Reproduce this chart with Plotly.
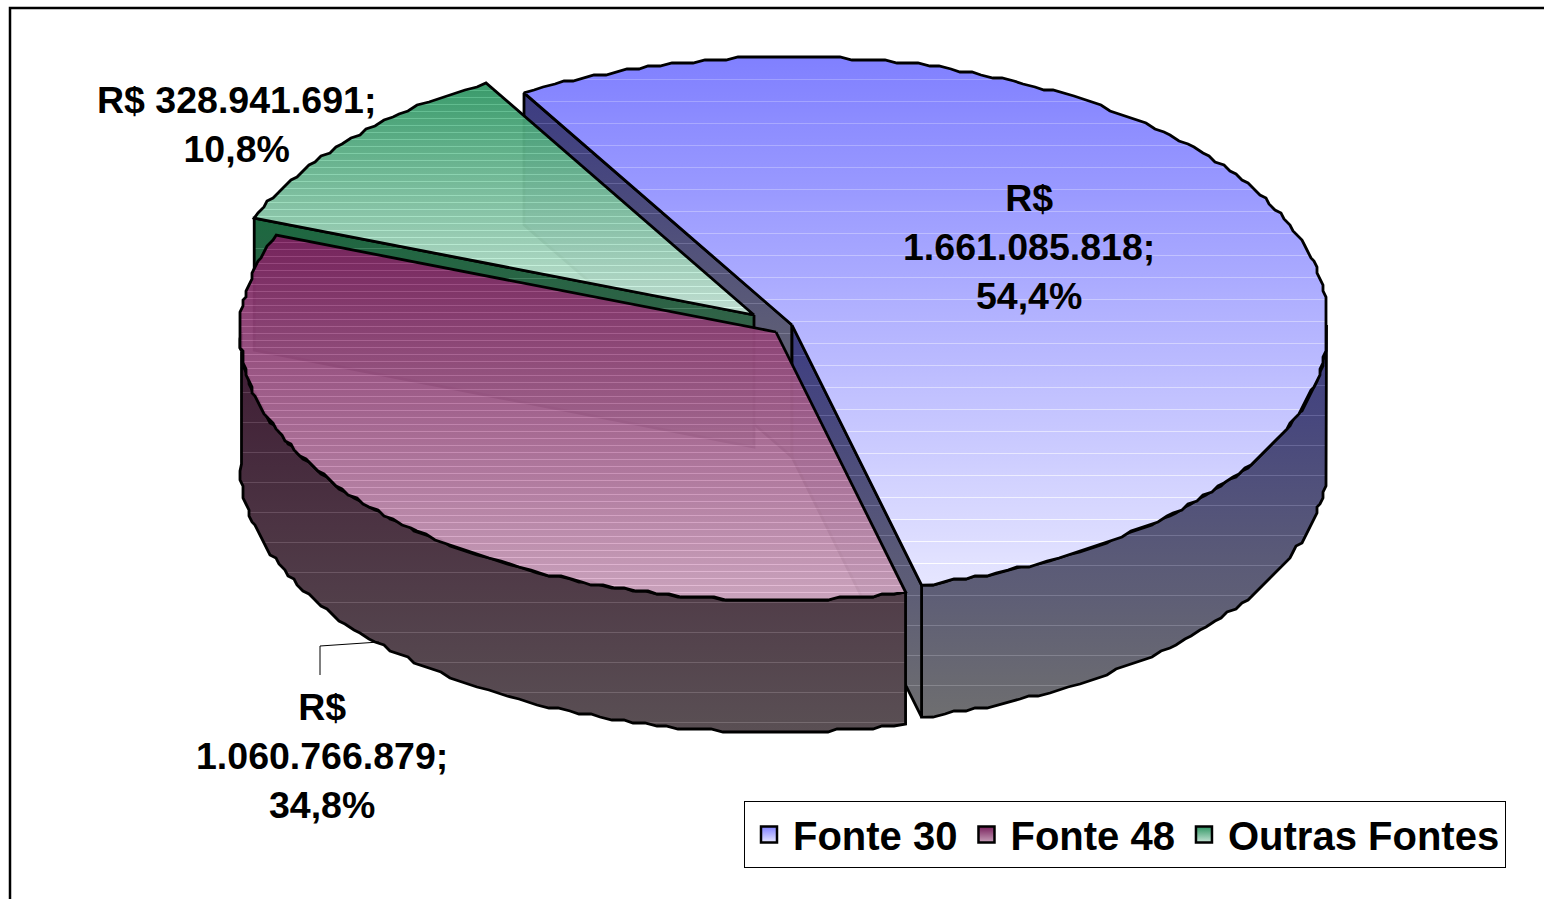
import numpy as np
import plotly.graph_objects as go

# ---- data ----
categories = ["Fonte 30", "Fonte 48", "Outras Fontes"]
values = [1661085818, 1060766879, 328941691]
percent_labels = ["54,4%", "34,8%", "10,8%"]

# ---- geometry of the drawing (px-like axis units) ----
W, H = 1544, 899
START_ANGLE = -30.0
RX, RY = 536.0, 268.0
DEPTH = 132.0
FLAT = 1.5
GRID = 3.0
centers = {"Fonte 30": (792, 325), "Fonte 48": (776, 332), "Outras Fontes": (754, 315)}

# ---- colours: (top rgb, bottom rgb, alpha, streak spacing) ----
top_colors = {
    "Fonte 30": ((128, 128, 255), (230, 230, 255), 1.0, 22),
    "Fonte 48": ((120, 32, 92), (200, 160, 186), 0.96, 7),
    "Outras Fontes": ((48, 150, 100), (198, 228, 214), 0.96, 7),
}
wall_colors = {
    "Fonte 30": ((60, 60, 130), (110, 110, 112), 1.0, 30),
    "Fonte 48": ((62, 26, 51), (90, 79, 84), 1.0, 30),
    "Outras Fontes": ((28, 104, 64), (74, 90, 80), 1.0, 30),
}


def money(v):
    return "R$ " + f"{v:,}".replace(",", ".")


def rim(name, a0, a1, exact=False):
    cx, cy = centers[name]
    t = np.radians(np.linspace(a0, a1, max(int(abs(a1 - a0) / 1.2), 2)))
    x = np.clip(cx + RX * np.sin(t), cx - RX + FLAT, cx + RX - FLAT)
    y = cy - RY * np.cos(t)
    if not exact:
        inner_x, inner_y = np.round(x[1:-1] / GRID) * GRID, np.round(y[1:-1] / GRID) * GRID
        x = np.r_[x[0], inner_x, x[-1]]
        y = np.r_[y[0], inner_y, y[-1]]
    return x, y


def rgba(c0, c1, f, alpha, lift=0):
    c = [min(255, int(round(a + (b - a) * f + lift))) for a, b in zip(c0, c1)]
    return f"rgba({c[0]},{c[1]},{c[2]},{alpha})"


def streaked_scale(style, h):
    """vertical gradient with the thin lighter streaks of the original rendering"""
    c0, c1, alpha, spacing = style
    px = 1.0 / max(h, 1)
    scale = [[0.0, rgba(c0, c1, 0, alpha)]]
    pos = spacing * px
    while pos + 2 * px < 1:
        scale.append([pos, rgba(c0, c1, pos, alpha)])
        scale.append([pos + 0.001 * px, rgba(c0, c1, pos, alpha, 28)])
        scale.append([pos + px, rgba(c0, c1, pos, alpha, 28)])
        scale.append([pos + 1.001 * px, rgba(c0, c1, pos, alpha)])
        pos += spacing * px
    scale.append([1.0, rgba(c0, c1, 1, alpha)])
    return scale


def face(x, y, style, name):
    y0, y1 = float(np.min(y)), float(np.max(y))
    return go.Scatter(
        x=x, y=y, mode="lines", fill="toself", hoverinfo="skip", showlegend=False,
        line=dict(color="black", width=2.8), name=name,
        fillgradient=dict(type="vertical", start=y0, stop=y1,
                          colorscale=streaked_scale(style, y1 - y0)),
    )


total = sum(values)
angles = {}
a = START_ANGLE
for n, v in zip(categories, values):
    angles[n] = (a, a + v / total * 360)
    a += v / total * 360

traces = []


def extrude(xs, ys):
    return np.r_[xs, xs[::-1], xs[0]], np.r_[ys, ys[::-1] + DEPTH, ys[0]]


def radial(name, ang):
    cx, cy = centers[name]
    ex, ey = rim(name, ang, ang + 1e-6, exact=True)
    return np.array([cx, ex[0]]), np.array([cy, ey[0]])


for name in ["Fonte 30", "Outras Fontes", "Fonte 48"]:
    a0, a1 = angles[name]
    cx, cy = centers[name]
    # visible outer wall (front half of the ellipse)
    lo, hi = max(a0, 90), min(a1, 270)
    if hi > lo:
        wx, wy = rim(name, lo, hi)
        px, py = extrude(wx, wy)
        traces.append(face(px, py, wall_colors[name], name))
    # cut faces
    if name == "Fonte 30":
        for ang in (a0, a1):
            rx_, ry_ = radial(name, ang)
            px, py = extrude(rx_, ry_)
            traces.append(face(px, py, wall_colors[name], name))
    if name == "Outras Fontes":
        rx_, ry_ = radial(name, a0)
        px, py = extrude(rx_, ry_)
        traces.append(face(px, py, wall_colors[name], name))
    # top
    tx, ty = rim(name, a0, a1)
    px = np.r_[cx, tx, cx]
    py = np.r_[cy, ty, cy]
    traces.append(face(px, py, top_colors[name], name))

# native legend entries
for name in categories:
    c0, c1, _, _ = top_colors[name]
    traces.append(go.Scatter(
        x=[None], y=[None], mode="markers", name=name,
        marker=dict(symbol="square", size=16, color=rgba(c0, c1, 0, 1),
                    gradient=dict(type="vertical", color=rgba(c0, c1, 1, 1)),
                    line=dict(color="black", width=2.5)),
    ))

# leader line of the Fonte 48 label
traces.append(go.Scatter(x=[320, 320, 379], y=[675, 646, 642], mode="lines", hoverinfo="skip",
                         showlegend=False, line=dict(color="black", width=1)))

fig = go.Figure(traces)

FONT = dict(family="Liberation Sans, Arial, sans-serif", size=37.5, color="black")
label_text = {
    "Fonte 30": "<b>R$<br>{};<br>{}</b>".format(money(values[0])[3:], percent_labels[0]),
    "Fonte 48": "<b>R$<br>{};<br>{}</b>".format(money(values[1])[3:], percent_labels[1]),
    "Outras Fontes": "<b>{};<br>{}</b>".format(money(values[2]), percent_labels[2]),
}
label_pos = {"Fonte 30": (1029, 247), "Fonte 48": (322, 756), "Outras Fontes": (236, 124)}
for n in categories:
    fig.add_annotation(x=label_pos[n][0], y=label_pos[n][1], text=label_text[n], showarrow=False,
                       xanchor="center", yanchor="middle", align="center", font=FONT)

fig.add_shape(type="rect", x0=10, y0=8, x1=W + 30, y1=H + 30, line=dict(color="black", width=2.5),
              layer="below")

fig.update_layout(
    width=W, height=H, margin=dict(l=0, r=0, t=0, b=0),
    paper_bgcolor="white", plot_bgcolor="white",
    xaxis=dict(range=[0, W], visible=False, fixedrange=True),
    yaxis=dict(range=[H, 0], visible=False, fixedrange=True),
    showlegend=True,
    legend=dict(
        orientation="h", x=744 / W, y=1 - 801 / H, xanchor="left", yanchor="top",
        bordercolor="black", borderwidth=1, bgcolor="white",
        font=dict(family="Liberation Sans, Arial, sans-serif", size=40, color="black", weight="bold"),
        itemsizing="trace", itemwidth=38,
    ),
)

fig.write_html("out.html", config={"displayModeBar": False},
               post_script="document.body.style.margin='0';")
